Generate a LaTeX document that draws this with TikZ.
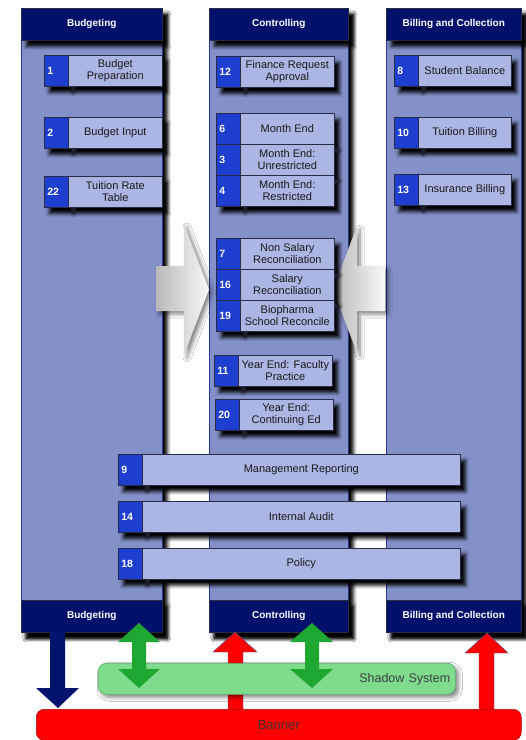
\documentclass[tikz,border=0pt]{standalone}
\usepackage{fontspec}
\setmainfont{Liberation Sans}
\usetikzlibrary{shadows.blur}
\definecolor{cbody}{RGB}{132,145,201}
\definecolor{cedge}{RGB}{40,55,150}
\definecolor{chead}{RGB}{0,17,108}
\definecolor{cbox}{RGB}{172,182,228}
\definecolor{cnum}{RGB}{30,62,208}
\definecolor{cline}{RGB}{40,42,70}
\definecolor{cgreen}{RGB}{30,168,50}
\definecolor{cshadow}{RGB}{126,220,140}
\definecolor{cshadowedge}{RGB}{95,175,110}
\definecolor{cred}{RGB}{255,0,0}
\definecolor{cnavy}{RGB}{0,20,110}
\definecolor{ctext}{RGB}{60,50,50}
\tikzset{
 shd/.style={blur shadow={shadow xshift=5pt, shadow yshift=-6pt, shadow blur radius=3.5pt, shadow opacity=100}},
 softshd/.style={blur shadow={shadow xshift=3pt, shadow yshift=-3pt, shadow blur radius=4pt, shadow opacity=50}},
 colbody/.style={shd, fill=cbody, draw=cedge, line width=0.5pt, anchor=north west, minimum height=624pt, inner sep=0pt},
 colhead/.style={shd, fill=chead, draw=cline, line width=0.5pt, anchor=north west, minimum height=32pt, inner sep=0pt, text=white, font=\bfseries\fontsize{10}{12}\selectfont},
 numbox/.style={shd, fill=cnum, draw=cline, line width=0.6pt, anchor=north west, minimum height=31pt, text width=18pt, inner xsep=3pt, inner ysep=0pt, align=left, text=white, font=\bfseries\fontsize{10.5}{12}\selectfont},
 txtbox/.style={shd, fill=cbox, draw=cline, line width=0.6pt, anchor=north west, minimum height=31pt, inner sep=1pt, align=center, text=black!90, font=\fontsize{11}{12}\selectfont},
 greyarrow/.style={softshd, left color=gray!55, right color=gray!6, draw=none},
 greenarrow/.style={fill=cgreen, draw=none},
 redarrow/.style={fill=cred, draw=cnavy!70, line width=0.4pt},
}
\begin{document}
\begin{tikzpicture}[x=1pt,y=-1pt]
\useasboundingbox[fill=white] (0,0) rectangle (526,740);
% columns
\node[colbody, minimum width=141pt] (colB) at (21,8) {};
\node[colbody, minimum width=139pt] (colC) at (209,8) {};
\node[colbody, minimum width=135pt] (colBC) at (386,8) {};
\node[colhead, minimum width=141pt] (hB) at (21,8) {Budgeting};
\node[colhead, minimum width=139pt] (hC) at (209,8) {Controlling};
\node[colhead, minimum width=135pt] (hBC) at (386,8) {Billing and Collection};
\node[colhead, minimum width=141pt] (fB) at (21,600) {Budgeting};
\node[colhead, minimum width=139pt] (fC) at (209,600) {Controlling};
\node[colhead, minimum width=135pt] (fBC) at (386,600) {Billing and Collection};
% grey arrows
\path[greyarrow] (156,266) -- (184,266) -- (184,224) -- (209,289.5) -- (184,355) -- (184,311) -- (156,311) -- cycle;
\path[greyarrow] (333,289.5) -- (357,226) -- (357,266) -- (385,266) -- (385,311) -- (357,311) -- (357,353) -- cycle;
% Budgeting boxes
\node[numbox] (n1) at (44,55) {1};
\node[txtbox, minimum width=94pt] (t1) at (68,55) {Budget\\Preparation};
\node[numbox] (n2) at (44,117) {2};
\node[txtbox, minimum width=94pt] (t2) at (68,117) {Budget Input};
\node[numbox] (n22) at (44,176) {22};
\node[txtbox, minimum width=94pt] (t22) at (68,176) {Tuition Rate\\Table};
% Controlling boxes
\node[numbox] (n12) at (216,56) {12};
\node[txtbox, minimum width=94pt] (t12) at (240,56) {Finance Request\\Approval};
\node[numbox] (n6) at (216,113) {6};
\node[txtbox, minimum width=94pt] (t6) at (240,113) {Month End};
\node[numbox] (n3) at (216,144) {3};
\node[txtbox, minimum width=94pt] (t3) at (240,144) {Month End:\\Unrestricted};
\node[numbox] (n4) at (216,175) {4};
\node[txtbox, minimum width=94pt] (t4) at (240,175) {Month End:\\Restricted};
\node[numbox] (n7) at (216,238) {7};
\node[txtbox, minimum width=94pt] (t7) at (240,238) {Non Salary\\Reconciliation};
\node[numbox] (n16) at (216,269) {16};
\node[txtbox, minimum width=94pt] (t16) at (240,269) {Salary\\Reconciliation};
\node[numbox] (n19) at (216,300) {19};
\node[txtbox, minimum width=94pt] (t19) at (240,300) {Biopharma\\School Reconcile};
\node[numbox] (n11) at (214,355) {11};
\node[txtbox, minimum width=94pt] (t11) at (238,355) {Year End: Faculty\\Practice};
\node[numbox] (n20) at (215,399) {20};
\node[txtbox, minimum width=94pt] (t20) at (239,399) {Year End:\\Continuing Ed};
% Billing boxes
\node[numbox] (n8) at (394,55) {8};
\node[txtbox, minimum width=93pt] (t8) at (418,55) {Student Balance};
\node[numbox] (n10) at (394,117) {10};
\node[txtbox, minimum width=93pt] (t10) at (418,117) {Tuition Billing};
\node[numbox] (n13) at (394,174) {13};
\node[txtbox, minimum width=93pt] (t13) at (418,174) {Insurance Billing};
% wide boxes
\node[numbox] (n9) at (118,454) {9};
\node[txtbox, minimum width=318pt] (t9) at (142,454) {Management Reporting};
\node[numbox] (n14) at (118,501) {14};
\node[txtbox, minimum width=318pt] (t14) at (142,501) {Internal Audit};
\node[numbox] (n18) at (118,548) {18};
\node[txtbox, minimum width=318pt] (t18) at (142,548) {Policy};
% bottom system
\path[redarrow] (235,632) -- (257,652) -- (243,652) -- (243,710) -- (228,710) -- (228,652) -- (213,652) -- cycle;
\path[redarrow] (487,633) -- (508,653) -- (494,653) -- (494,710) -- (479,710) -- (479,653) -- (465,653) -- cycle;
\node[softshd, fill=cshadow, draw=cshadowedge, line width=0.6pt, rounded corners=8pt, anchor=north west, minimum height=31pt, text width=347pt, inner xsep=5pt, inner ysep=0pt, align=right, text=black!75, font=\fontsize{12.5}{14}\selectfont] (shadowsys) at (98,663) {Shadow System};
\path[greenarrow] (139,623) -- (160,642) -- (146,642) -- (146,669) -- (160,669) -- (139,688) -- (118,669) -- (132,669) -- (132,642) -- (118,642) -- cycle;
\path[greenarrow] (312,623) -- (333,642) -- (319,642) -- (319,669) -- (333,669) -- (312,688) -- (290,669) -- (305,669) -- (305,642) -- (290,642) -- cycle;
\node[fill=cred, draw=red!70!black, line width=0.5pt, rounded corners=8pt, anchor=north west, minimum width=485pt, minimum height=31pt, inner sep=0pt, text=ctext, font=\fontsize{13}{15}\selectfont] (banner) at (36,709) {Banner};
\path[fill=cnavy] (50,632) -- (65,632) -- (65,688) -- (79,688) -- (58,708) -- (36,688) -- (50,688) -- cycle;
\end{tikzpicture}
\end{document}
